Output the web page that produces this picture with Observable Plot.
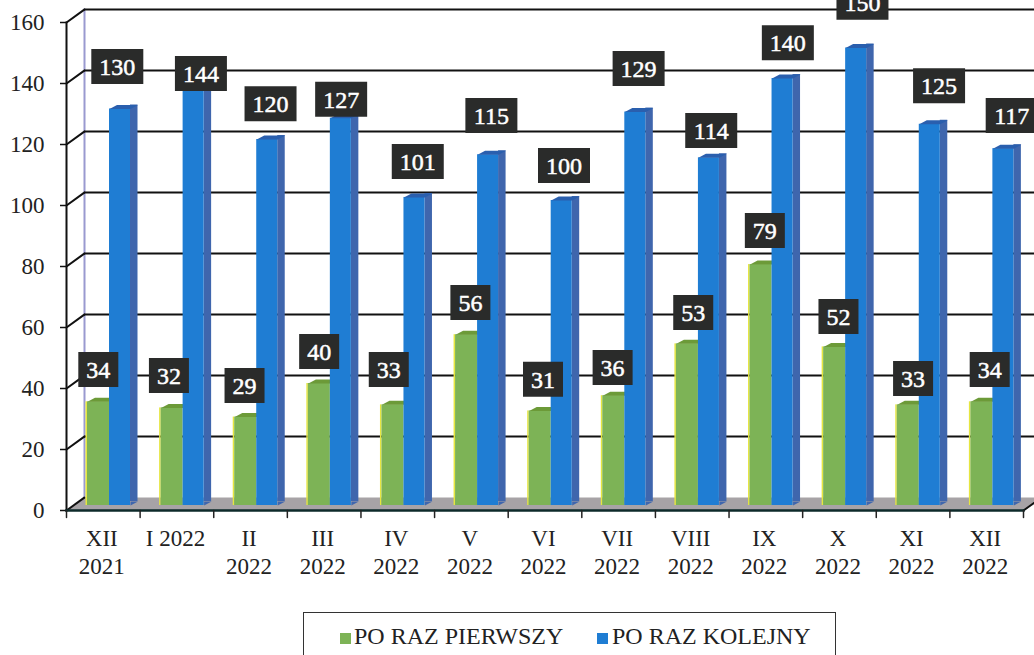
<!DOCTYPE html>
<html lang="pl">
<head>
<meta charset="utf-8">
<script src="https://cdn.jsdelivr.net/npm/d3@7"></script>
<script src="https://cdn.jsdelivr.net/npm/@observablehq/plot@0.6"></script>
<style>
html,body{margin:0;padding:0;background:#fff;overflow:hidden;width:1034px;height:655px}
#legend{position:absolute;left:303px;top:612px;width:531px;height:70px;border:1px solid #333;font:24px "Liberation Serif",serif;color:#222}
#legend i{position:absolute;top:20px;width:11px;height:11px}
#legend span{position:absolute;top:10px;white-space:nowrap}
</style>
</head>
<body>
<div id="chart"></div>
<div id="legend">
  <i style="left:36px;background:#7db356"></i><span style="left:50px">PO RAZ PIERWSZY</span>
  <i style="left:293px;background:#1f7dd3"></i><span style="left:308px">PO RAZ KOLEJNY</span>
</div>
<script>
const categories = ["XII\n2021","I 2022","II\n2022","III\n2022","IV\n2022","V\n2022","VI\n2022","VII\n2022","VIII\n2022","IX\n2022","X\n2022","XI\n2022","XII\n2022"];
const first = [34,32,29,40,33,56,31,36,53,79,52,33,34];
const next = [130,144,120,127,101,115,100,129,114,140,150,125,117];
const yTicks = [0,20,40,60,80,100,120,140,160];

// Where each hand-placed value box sits: height in axis units, sideways shift in pixels.
const firstLabelY = [46.2,44.3,41,52.1,46.2,68.2,43,46.9,64.9,91.8,63.6,43.3,46.2];
const firstLabelDx = [-5,-8,-6,-5,-9,-1,-2,-6,1,-1,-1,0,3];
const nextLabelY = [145.6,143.3,133.4,134.8,114.4,129.5,113.1,144.9,124.6,153.4,166.6,139.3,129.5];
const nextLabelDx = [14,24,20,17,20,20,19,20,19,22,23,26,25];

const rows = categories.map((c,i)=>({c,first:first[i],next:next[i]}));
const band = (1034-66-11)/13;
const BASE = -5, DX = 7.5, DY = 4;

const lineShape = {draw(ctx,l){ctx.moveTo(0,0);ctx.lineTo(0,-l);}};
const quad = pts => ({draw(ctx){ctx.moveTo(...pts[0]);pts.slice(1).forEach(p=>ctx.lineTo(...p));ctx.closePath();}});
const capShape = (a,b) => quad([[a,0],[b,0],[b+DX,-DY],[a+DX,-DY]]);
const boxShape = (w,h) => quad([[-w/2,-h/2],[w/2,-h/2],[w/2,h/2],[-w/2,h/2]]);
const floorShape = quad([[0,0],[18,-13],[980,-13],[957,0]]);

const vec = (data,o) => Plot.vector(data,{length:1,anchor:"start",rotate:0,stroke:"none",...o});

function labelAt(row,value,yPos,dx){
  const w = String(value).length>2 ? 52 : 40;
  return [
    vec([row],{x:"c",y:()=>yPos,dx,shape:boxShape(w,35),fill:"#2a2b2a"}),
    Plot.text([row],{x:"c",y:()=>yPos,dx,dy:1,text:()=>String(value),fill:"#fff",stroke:"#fff",strokeWidth:0.5,fontSize:24})
  ];
}

const gLeft=21,gRight=43,bRight=64;
const fromCenter = v => v-band/2;
const sideFoot = quad([[fromCenter(bRight),0],[fromCenter(bRight)+DX,-DY],[fromCenter(bRight),-DY]]);

const chart = Plot.plot({
  width:1034,height:600,
  marginLeft:66,marginRight:11,marginTop:22,marginBottom:90,
  style:{fontFamily:"'Liberation Serif',serif",background:"#fff",color:"#222"},
  x:{domain:categories,padding:0,round:false,label:null},
  y:{domain:[0,160],label:null},
  marks:[
    Plot.frame({anchor:"left",dx:18,dy:-13,stroke:"#9a9ad0",strokeWidth:2}),
    Plot.ruleY(yTicks.slice(1),{dy:-13,insetLeft:18,insetRight:-11,stroke:"#111",strokeWidth:2}),
    vec([0],{y:d=>d,frameAnchor:"left",shape:floorShape,fill:"#a7a3a6"}),
    vec(yTicks,{y:d=>d,frameAnchor:"left",length:22,rotate:54,shape:lineShape,stroke:"#111",strokeWidth:2}),
    vec([0],{y:d=>d,frameAnchor:"right",length:22,rotate:54,shape:lineShape,stroke:"#111",strokeWidth:2}),
    // yellow fringe on the green bars
    Plot.barY(rows,{x:"c",y:"first",dy:BASE,insetLeft:gLeft-1.5,insetRight:band-gLeft,fill:"#e6e640"}),
    // green bars
    Plot.barY(rows,{x:"c",y:"first",dy:BASE,insetLeft:gLeft,insetRight:band-gRight,fill:"#7db356"}),
    vec(rows,{x:"c",y:"first",dy:BASE,shape:capShape(fromCenter(gLeft),fromCenter(gRight)),fill:"#6c9a38"}),
    // blue bars
    Plot.barY(rows,{x:"c",y:"next",dy:BASE-DY,insetLeft:bRight,insetRight:band-bRight-DX,fill:"#3f66ad"}),
    vec(rows,{x:"c",y:()=>0,dy:BASE,shape:sideFoot,fill:"#3f66ad"}),
    Plot.barY(rows,{x:"c",y:"next",dy:BASE,insetLeft:gRight,insetRight:band-bRight,fill:"#1f7dd3"}),
    vec(rows,{x:"c",y:"next",dy:BASE,shape:capShape(fromCenter(gRight),fromCenter(bRight)),fill:"#2a5fae"}),
    // axes
    Plot.axisY({ticks:yTicks,tickSize:6,tickPadding:16,fontSize:23,label:null,stroke:"#111",strokeWidth:1.5}),
    Plot.axisX({anchor:"bottom",tickSize:0,tickPadding:16,fontSize:23,lineHeight:1.22,dx:-1.5,label:null}),
    Plot.frame({anchor:"left",stroke:"#111",strokeWidth:2}),
    Plot.frame({anchor:"bottom",stroke:"#0d2a2a",strokeWidth:2.5}),
    vec(categories,{x:d=>d,y:()=>0,dx:-band/2,length:7,rotate:180,shape:lineShape,stroke:"#222",strokeWidth:1.5}),
    vec([categories[12]],{x:d=>d,y:()=>0,dx:band/2,length:7,rotate:180,shape:lineShape,stroke:"#222",strokeWidth:1.5}),
    // value boxes
    rows.map((r,i)=>labelAt(r,first[i],firstLabelY[i],firstLabelDx[i])),
    rows.map((r,i)=>labelAt(r,next[i],nextLabelY[i],nextLabelDx[i]))
  ]
});
chart.style.display="block";
document.getElementById("chart").appendChild(chart);
</script>
</body>
</html>
